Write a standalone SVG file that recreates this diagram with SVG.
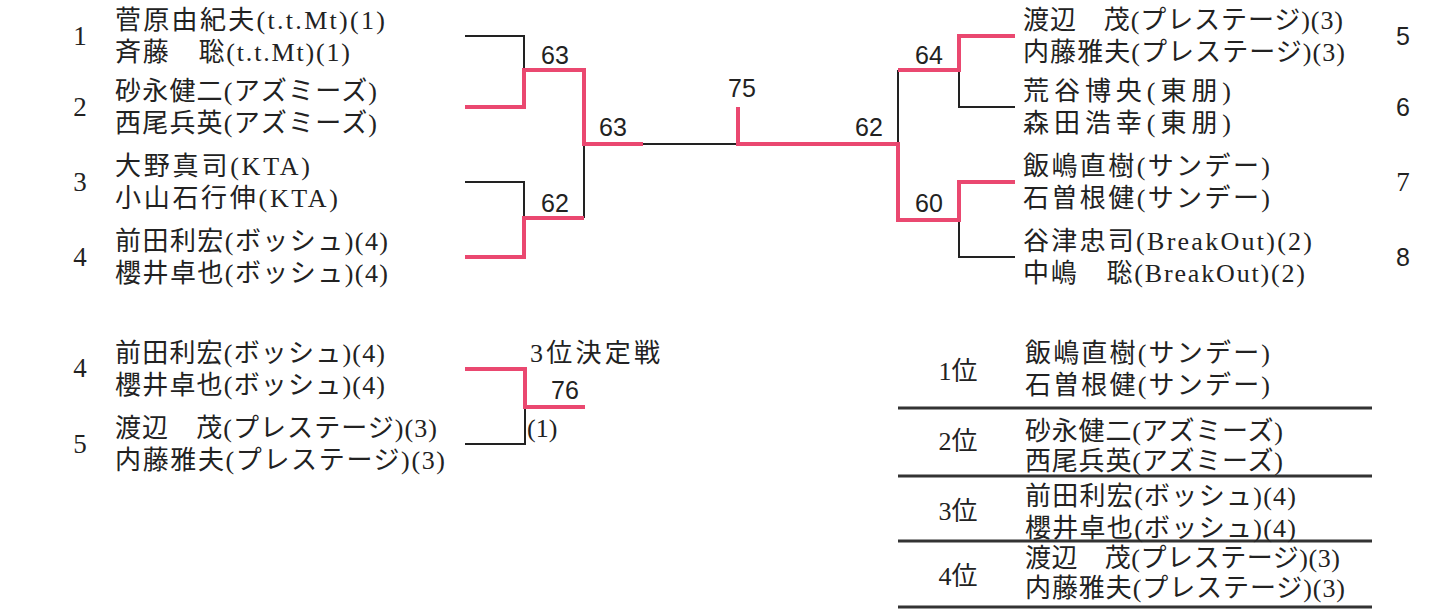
<svg xmlns="http://www.w3.org/2000/svg" width="1438" height="612" viewBox="0 0 1438 612">
<style>
.nm{font-family:"Liberation Serif","Noto Sans CJK JP",serif;font-size:26px;fill:#222}
.sd{font-family:"Liberation Serif","Noto Sans CJK JP",serif;font-size:27px;fill:#222;text-anchor:middle}
.rk{font-family:"Liberation Serif","Noto Sans CJK JP",serif;font-size:26px;fill:#222;text-anchor:middle}
.sdr{font-family:"Liberation Sans","Noto Sans CJK JP",sans-serif;font-size:25px;fill:#222;text-anchor:middle}
.sc{font-family:"Liberation Sans",sans-serif;font-size:25px;fill:#222;text-anchor:middle}
.red{fill:none;stroke:#ea4870;stroke-width:4}
.blk{fill:none;stroke:#222;stroke-width:2}
.rule{stroke:#333;stroke-width:3}
</style>
<rect width="1438" height="612" fill="#fff"/>
<g id="connectors">
<path class="blk" d="M465,36 H524 V70"/>
<path class="blk" d="M584,144 V218"/>
<path class="blk" d="M465,182 H524 V218"/>
<path class="blk" d="M643,144 H738"/>
<path class="blk" d="M898,70 V144"/>
<path class="blk" d="M959,70 V107 H1015"/>
<path class="blk" d="M959,220 V257 H1015"/>
<path class="blk" d="M525,407 V444 H465"/>
<path class="red" d="M465,107 H524 V70 H584 V144 H643"/>
<path class="red" d="M465,257 H524 V218 H584"/>
<path class="red" d="M738,107 V144 H898 V220 H959 V182 H1015"/>
<path class="red" d="M898,70 H959 V36 H1015"/>
<path class="red" d="M465,369 H525 V407 H585"/>
<text class="sc" x="555" y="64">63</text>
<text class="sc" x="613" y="136">63</text>
<text class="sc" x="555" y="212">62</text>
<text class="sc" x="742" y="97">75</text>
<text class="sc" x="869" y="136">62</text>
<text class="sc" x="929" y="64">64</text>
<text class="sc" x="929" y="212">60</text>
<text class="sc" x="565" y="399">76</text>
</g>
<g id="team1">
<text class="sd" x="80" y="45">1</text>
<text class="nm" x="115" y="29" textLength="270">菅原由紀夫(t.t.Mt)(1)</text>
<text class="nm" x="115" y="61" textLength="235">斉藤　聡(t.t.Mt)(1)</text>
</g>
<g id="team2">
<text class="sd" x="80" y="116">2</text>
<text class="nm" x="115" y="100" textLength="262">砂永健二(アズミーズ)</text>
<text class="nm" x="115" y="132" textLength="262">西尾兵英(アズミーズ)</text>
</g>
<g id="team3">
<text class="sd" x="80" y="191">3</text>
<text class="nm" x="115" y="175" textLength="195">大野真司(KTA)</text>
<text class="nm" x="115" y="207" textLength="223">小山石行伸(KTA)</text>
</g>
<g id="team4">
<text class="sd" x="80" y="266">4</text>
<text class="nm" x="115" y="250" textLength="273">前田利宏(ボッシュ)(4)</text>
<text class="nm" x="115" y="282" textLength="273">櫻井卓也(ボッシュ)(4)</text>
</g>
<g id="team5">
<text class="sdr" x="1403" y="45">5</text>
<text class="nm" x="1023" y="29" textLength="320">渡辺　茂(プレステージ)(3)</text>
<text class="nm" x="1023" y="61" textLength="322">内藤雅夫(プレステージ)(3)</text>
</g>
<g id="team6">
<text class="sdr" x="1403" y="116">6</text>
<text class="nm" x="1023" y="100" textLength="208">荒谷博央(東朋)</text>
<text class="nm" x="1023" y="132" textLength="208">森田浩幸(東朋)</text>
</g>
<g id="team7">
<text class="sd" x="1403" y="191">7</text>
<text class="nm" x="1023" y="175" textLength="247">飯嶋直樹(サンデー)</text>
<text class="nm" x="1023" y="207" textLength="247">石曽根健(サンデー)</text>
</g>
<g id="team8">
<text class="sdr" x="1403" y="266">8</text>
<text class="nm" x="1023" y="250" textLength="289">谷津忠司(BreakOut)(2)</text>
<text class="nm" x="1023" y="282" textLength="282">中嶋　聡(BreakOut)(2)</text>
</g>
<g id="third-team4">
<text class="sd" x="80" y="377">4</text>
<text class="nm" x="115" y="362" textLength="270">前田利宏(ボッシュ)(4)</text>
<text class="nm" x="115" y="394" textLength="270">櫻井卓也(ボッシュ)(4)</text>
</g>
<g id="third-team5">
<text class="sd" x="80" y="453">5</text>
<text class="nm" x="115" y="437" textLength="322">渡辺　茂(プレステージ)(3)</text>
<text class="nm" x="115" y="469" textLength="330">内藤雅夫(プレステージ)(3)</text>
</g>
<g id="third-place-label">
<text class="nm" x="530" y="362" textLength="130">3位決定戦</text>
<text class="nm" x="527" y="437">(1)</text>
</g>
<g id="rankings">
<line class="rule" x1="898" y1="408" x2="1372" y2="408"/>
<line class="rule" x1="898" y1="476" x2="1372" y2="476"/>
<line class="rule" x1="898" y1="541" x2="1372" y2="541"/>
<line class="rule" x1="898" y1="607" x2="1372" y2="607"/>
</g>
<g id="rank1">
<text class="rk" x="958" y="380">1位</text>
<text class="nm" x="1025" y="362" textLength="245">飯嶋直樹(サンデー)</text>
<text class="nm" x="1025" y="394" textLength="245">石曽根健(サンデー)</text>
</g>
<g id="rank2">
<text class="rk" x="958" y="450">2位</text>
<text class="nm" x="1025" y="440" textLength="258">砂永健二(アズミーズ)</text>
<text class="nm" x="1025" y="470" textLength="258">西尾兵英(アズミーズ)</text>
</g>
<g id="rank3">
<text class="rk" x="958" y="520">3位</text>
<text class="nm" x="1025" y="505" textLength="271">前田利宏(ボッシュ)(4)</text>
<text class="nm" x="1025" y="537" textLength="271">櫻井卓也(ボッシュ)(4)</text>
</g>
<g id="rank4">
<text class="rk" x="958" y="585">4位</text>
<text class="nm" x="1025" y="567" textLength="315">渡辺　茂(プレステージ)(3)</text>
<text class="nm" x="1025" y="597" textLength="320">内藤雅夫(プレステージ)(3)</text>
</g>
</svg>
